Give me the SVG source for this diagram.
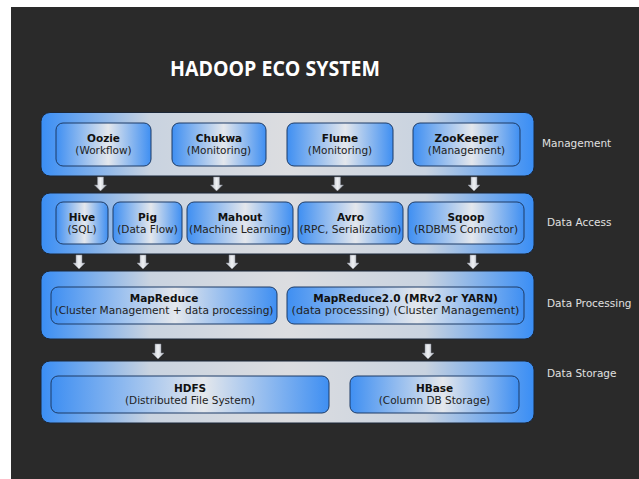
<svg xmlns="http://www.w3.org/2000/svg" width="639" height="479" viewBox="0 0 639 479">
<defs>
<linearGradient id="gOuter" x1="0" y1="0" x2="1" y2="0">
<stop offset="0" stop-color="#3a8ef5"/>
<stop offset="0.22" stop-color="#c9d3e0"/>
<stop offset="0.5" stop-color="#dcdde0"/>
<stop offset="0.78" stop-color="#c9d3e0"/>
<stop offset="1" stop-color="#3a8ef5"/>
</linearGradient>
<linearGradient id="gInner" x1="0" y1="0" x2="1" y2="0">
<stop offset="0" stop-color="#3f8ff2"/>
<stop offset="0.55" stop-color="#e4e7ec"/>
<stop offset="1" stop-color="#3f8ff2"/>
</linearGradient>
<linearGradient id="gArrow" x1="0" y1="0" x2="1" y2="0">
<stop offset="0" stop-color="#b8bcc4"/>
<stop offset="0.5" stop-color="#eef0f3"/>
<stop offset="1" stop-color="#b8bcc4"/>
</linearGradient>
</defs>
<style>
.outer{fill:url(#gOuter);stroke:#1b2738;stroke-width:1}
.inner{fill:url(#gInner);stroke:#1d3b66;stroke-width:1}
.t{font-family:"DejaVu Sans",Verdana,sans-serif;font-size:10.5px;font-weight:bold;fill:#111;text-anchor:middle}
.s{font-family:"DejaVu Sans",Verdana,sans-serif;font-size:10.5px;fill:#222;text-anchor:middle}
.lab{font-family:"DejaVu Sans",Verdana,sans-serif;font-size:10.5px;fill:#e0e0e0}
.title{font-family:"Open Sans","Liberation Sans",sans-serif;font-size:21px;font-weight:bold;fill:#ffffff}
.arr{fill:url(#gArrow);stroke:#8a8f98;stroke-width:0.5}
</style>
<rect x="0" y="0" width="639" height="479" fill="#ffffff"/>
<rect x="11" y="7" width="628" height="472" fill="#2a2a2a"/>
<text class="title" x="275" y="76" text-anchor="middle" textLength="210" lengthAdjust="spacingAndGlyphs">HADOOP ECO SYSTEM</text>

<g id="management">
<rect class="outer" x="41" y="112.5" width="493" height="63.5" rx="9"/>
<text class="lab" x="542" y="147">Management</text>
</g>
<g id="oozie"><rect class="inner" x="56" y="123" width="95" height="43" rx="7"/><text class="t" x="103.5" y="142">Oozie</text><text class="s" x="103.5" y="154">(Workflow)</text></g>
<g id="chukwa"><rect class="inner" x="172" y="123" width="94" height="43" rx="7"/><text class="t" x="219" y="142">Chukwa</text><text class="s" x="219" y="154">(Monitoring)</text></g>
<g id="flume"><rect class="inner" x="287" y="123" width="106" height="43" rx="7"/><text class="t" x="340" y="142">Flume</text><text class="s" x="340" y="154">(Monitoring)</text></g>
<g id="zookeeper"><rect class="inner" x="413" y="123" width="107" height="43" rx="7"/><text class="t" x="466.5" y="142">ZooKeeper</text><text class="s" x="466.5" y="154">(Management)</text></g>

<g id="data-access">
<rect class="outer" x="41" y="193" width="493" height="61" rx="9"/>
<text class="lab" x="547" y="226">Data Access</text>
</g>
<g id="hive"><rect class="inner" x="56" y="202" width="52" height="42" rx="7"/><text class="t" x="82" y="221">Hive</text><text class="s" x="82" y="233">(SQL)</text></g>
<g id="pig"><rect class="inner" x="113" y="202" width="69" height="42" rx="7"/><text class="t" x="147.5" y="221">Pig</text><text class="s" x="147.5" y="233">(Data Flow)</text></g>
<g id="mahout"><rect class="inner" x="187" y="202" width="106" height="42" rx="7"/><text class="t" x="240" y="221">Mahout</text><text class="s" x="240" y="233" textLength="102" lengthAdjust="spacingAndGlyphs">(Machine Learning)</text></g>
<g id="avro"><rect class="inner" x="298" y="202" width="105" height="42" rx="7"/><text class="t" x="350.5" y="221">Avro</text><text class="s" x="350.5" y="233" textLength="102" lengthAdjust="spacingAndGlyphs">(RPC, Serialization)</text></g>
<g id="sqoop"><rect class="inner" x="408" y="202" width="116" height="42" rx="7"/><text class="t" x="466" y="221">Sqoop</text><text class="s" x="466" y="233">(RDBMS Connector)</text></g>

<g id="data-processing">
<rect class="outer" x="41" y="271" width="493" height="68" rx="9"/>
<text class="lab" x="547" y="307">Data Processing</text>
</g>
<g id="mapreduce"><rect class="inner" x="51" y="287" width="226" height="37" rx="7"/><text class="t" x="164" y="302">MapReduce</text><text class="s" x="164" y="314" textLength="219" lengthAdjust="spacingAndGlyphs">(Cluster Management + data processing)</text></g>
<g id="mapreduce2"><rect class="inner" x="287" y="287" width="237" height="37" rx="7"/><text class="t" x="405.5" y="302">MapReduce2.0 (MRv2 or YARN)</text><text class="s" x="405.5" y="314" textLength="228" lengthAdjust="spacingAndGlyphs">(data processing)  (Cluster Management)</text></g>

<g id="data-storage">
<rect class="outer" x="41" y="361" width="493" height="62" rx="9"/>
<text class="lab" x="547" y="377">Data Storage</text>
</g>
<g id="hdfs"><rect class="inner" x="51" y="376" width="278" height="37" rx="7"/><text class="t" x="190" y="392">HDFS</text><text class="s" x="190" y="404">(Distributed File System)</text></g>
<g id="hbase"><rect class="inner" x="350" y="376" width="169" height="37" rx="7"/><text class="t" x="434.5" y="392">HBase</text><text class="s" x="434.5" y="404">(Column DB Storage)</text></g>

<g id="connectors">
<path class="arr" d="M97.5 177h6v8h3l-6 6l-6-6h3z"/>
<path class="arr" d="M213.5 177h6v8h3l-6 6l-6-6h3z"/>
<path class="arr" d="M334.5 177h6v8h3l-6 6l-6-6h3z"/>
<path class="arr" d="M471 177h6v8h3l-6 6l-6-6h3z"/>
<path class="arr" d="M76 255h6v8h3l-6 6l-6-6h3z"/>
<path class="arr" d="M140 255h6v8h3l-6 6l-6-6h3z"/>
<path class="arr" d="M229 255h6v8h3l-6 6l-6-6h3z"/>
<path class="arr" d="M350 255h6v8h3l-6 6l-6-6h3z"/>
<path class="arr" d="M470 255h6v8h3l-6 6l-6-6h3z"/>
<path class="arr" d="M155 344h6v9h3l-6 6l-6-6h3z"/>
<path class="arr" d="M425 344h6v9h3l-6 6l-6-6h3z"/>
</g>
</svg>
